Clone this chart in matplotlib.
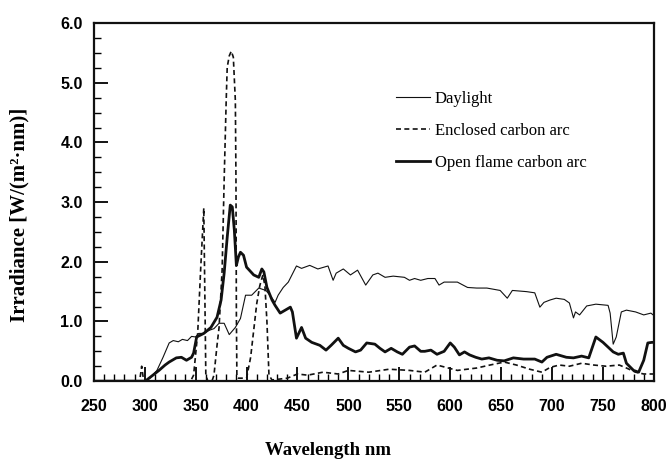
import matplotlib.pyplot as plt
from matplotlib.ticker import MultipleLocator

# Espectros (longitud de onda en nm, irradiancia en W/(m2 nm))
wl_day = [250, 300, 305, 312, 318, 324, 328, 333, 337, 342, 346, 350, 353, 358, 363, 368,
          373, 378, 383, 389, 394, 399, 405, 412, 419, 423, 428, 431, 436, 441, 449, 454,
          462, 470, 480, 485, 488, 495, 502, 509, 517, 524, 529, 536, 544, 555, 560, 565,
          571, 578, 585, 589, 594, 607, 617, 626, 636, 649, 656, 661, 675, 683, 688, 692,
          698, 704, 712, 717, 721, 723, 727, 734, 743, 755, 757, 760, 763, 768, 773, 782,
          790, 797, 800]
irr_day = [0.0, 0.0, 0.05, 0.18, 0.40, 0.64, 0.68, 0.66, 0.70, 0.68, 0.75, 0.74, 0.80, 0.80,
           0.85, 0.88, 0.97, 0.97, 0.78, 0.90, 1.05, 1.44, 1.44, 1.56, 1.52, 1.44, 1.32, 1.44,
           1.57, 1.66, 1.93, 1.89, 1.94, 1.88, 1.93, 1.69, 1.81, 1.88, 1.78, 1.86, 1.61, 1.78,
           1.81, 1.74, 1.76, 1.74, 1.69, 1.72, 1.69, 1.72, 1.72, 1.61, 1.66, 1.66, 1.57, 1.56,
           1.56, 1.52, 1.39, 1.52, 1.50, 1.48, 1.24, 1.32, 1.36, 1.39, 1.37, 1.31, 1.06, 1.16,
           1.11, 1.26, 1.29, 1.27, 1.14, 0.62, 0.74, 1.16, 1.19, 1.16, 1.11, 1.14, 1.10]

wl_enc = [250, 295, 297, 299, 345, 348, 352, 355, 358, 360, 362, 366, 368, 371, 373, 376,
          378, 380, 381, 383, 385, 387, 389, 389.6, 390, 390.5, 392, 400, 404, 407, 410, 413,
          416, 418, 420, 422, 425, 440, 450, 460, 475, 490, 500, 520, 540, 560, 575, 587,
          607, 626, 639, 653, 665, 678, 690, 698, 707, 717, 729, 741, 753, 766, 773, 782,
          790, 800]
irr_enc = [0.0, 0.0, 0.25, 0.0, 0.0, 0.1, 0.8, 1.9, 2.9, 0.1, 0.0, 0.0, 0.1, 0.6, 0.9, 1.86,
           3.37, 4.7, 5.26, 5.45, 5.53, 5.43, 4.7, 3.37, 1.14, 0.07, 0.05, 0.05, 0.4, 0.85,
           1.3, 1.6, 1.78, 1.6, 1.0, 0.1, 0.02, 0.05, 0.12, 0.10, 0.15, 0.12, 0.18, 0.15,
           0.20, 0.18, 0.15, 0.27, 0.18, 0.22, 0.27, 0.32, 0.27, 0.20, 0.15, 0.23, 0.27,
           0.25, 0.30, 0.27, 0.25, 0.27, 0.22, 0.15, 0.12, 0.12]

wl_open = [250, 300, 302, 308, 314, 320, 324, 331, 336, 341, 346, 348, 351, 358, 365, 371,
           375, 378, 381, 384, 386, 388, 390, 392, 394, 397, 400, 407, 412, 415, 417, 420,
           425, 428, 433, 438, 443, 445, 449, 454, 458, 464, 472, 478, 483, 490, 495, 500,
           507, 512, 518, 526, 531, 536, 542, 548, 553, 560, 565, 571, 575, 581, 587, 594,
           600, 604, 609, 614, 619, 625, 631, 638, 646, 653, 662, 672, 683, 690, 695, 704,
           714, 721, 729, 736, 743, 750, 760, 765, 770, 773, 780, 785, 790, 794, 798, 800]
irr_open = [0.0, 0.0, 0.02, 0.10, 0.18, 0.27, 0.32, 0.39, 0.40, 0.35, 0.40, 0.47, 0.74, 0.80,
            0.90, 1.07, 1.36, 1.81, 2.41, 2.95, 2.92, 2.53, 1.94, 2.08, 2.16, 2.11, 1.91, 1.78,
            1.74, 1.88, 1.83, 1.57, 1.36, 1.27, 1.14, 1.19, 1.24, 1.16, 0.72, 0.90, 0.72, 0.65,
            0.60, 0.52, 0.60, 0.72, 0.60, 0.55, 0.49, 0.52, 0.64, 0.62, 0.55, 0.49, 0.55, 0.49,
            0.45, 0.57, 0.59, 0.50, 0.50, 0.52, 0.45, 0.50, 0.64, 0.57, 0.44, 0.49, 0.44, 0.40,
            0.37, 0.39, 0.35, 0.34, 0.39, 0.37, 0.37, 0.32, 0.40, 0.45, 0.40, 0.39, 0.42, 0.39,
            0.74, 0.65, 0.49, 0.45, 0.47, 0.30, 0.18, 0.15, 0.35, 0.64, 0.65, 0.65]

fig = plt.figure(figsize=(6.7, 4.62), dpi=100)
ax = fig.add_axes([0.140, 0.175, 0.836, 0.775])

ink = '#111111'
ax.plot(wl_day, irr_day, color=ink, lw=0.8, label='Daylight')
ax.plot(wl_enc, irr_enc, color=ink, lw=1.2, dashes=(3, 2), label='Enclosed carbon arc')
ax.plot(wl_open, irr_open, color=ink, lw=2.0, label='Open flame carbon arc')

ax.set_xlim(250, 800)
ax.set_ylim(0, 6)
ax.xaxis.set_major_locator(MultipleLocator(50))
ax.xaxis.set_minor_locator(MultipleLocator(10))
ax.yaxis.set_major_locator(MultipleLocator(1))
ax.yaxis.set_minor_locator(MultipleLocator(0.25))
ax.set_yticklabels([f'{v:.1f}' for v in ax.get_yticks()])

for lab in ax.get_xticklabels() + ax.get_yticklabels():
    lab.set_family('Liberation Sans')
    lab.set_fontweight('bold')
    lab.set_fontsize(11.5)

ax.tick_params(axis='x', which='major', direction='in', length=10, width=1.3, pad=13)
ax.tick_params(axis='x', which='minor', direction='in', length=5, width=1.0)
ax.tick_params(axis='y', which='major', direction='in', length=10, width=1.3, pad=8)
ax.tick_params(axis='y', which='minor', direction='in', length=5, width=1.0)
for s in ax.spines.values():
    s.set_linewidth(1.6)
    s.set_color(ink)

serif = 'Liberation Serif'
ax.set_xlabel('Wavelength nm', family=serif, fontweight='bold', fontsize=13.5)
ax.xaxis.set_label_coords(0.418, -0.17)
ax.set_ylabel('Irradiance [W/(m²·nm)]', family=serif, fontweight='bold', fontsize=15)
ax.yaxis.set_label_coords(-0.115, 0.465)

ax.legend(loc='upper left', bbox_to_anchor=(0.54, 0.81), frameon=False,
          prop={'family': serif, 'size': 12}, handlelength=2.0, handletextpad=0.3,
          labelspacing=0.95, borderpad=0, borderaxespad=0)

fig.savefig('out.png', dpi=100)
